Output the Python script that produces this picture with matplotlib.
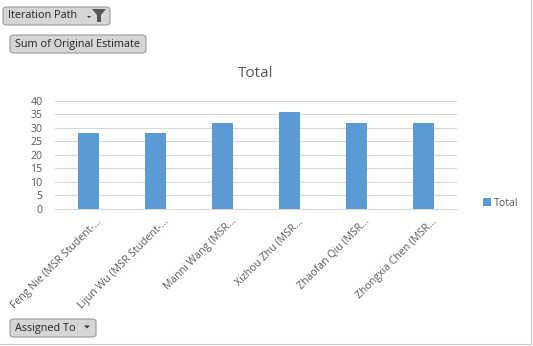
import numpy as np
import matplotlib.pyplot as plt
from matplotlib.patches import FancyBboxPatch, Polygon

plt.rcParams['font.family'] = ['Open Sans', 'DejaVu Sans']

# 数据
names = ['Feng Nie (MSR Student-...', 'Lijun Wu (MSR Student-...',
         'Manni Wang (MSR...', 'Xizhou Zhu (MSR...',
         'Zhaofan Qiu (MSR...', 'Zhongxia Chen (MSR...']
totals = [28, 28, 32, 36, 32, 32]
yticks = [0, 5, 10, 15, 20, 25, 30, 35, 40]

W, H = 533, 346
fig = plt.figure(figsize=(W / 100, H / 100), dpi=100)
fig.patch.set_facecolor('white')


def fx(px):
    return px / W


def fy(py):
    return 1 - py / H


def button(x0, y0, x1, y1, label):
    """Excel 透视图字段按钮"""
    box = FancyBboxPatch((fx(x0), fy(y1)), fx(x1 - x0), (y1 - y0) / H,
                         boxstyle='round,pad=0,rounding_size=0.008',
                         transform=fig.transFigure, facecolor='#d6d6d6',
                         edgecolor='#9a9a9a', linewidth=0.8)
    fig.patches.append(box)
    fig.text(fx(x0 + 5), fy((y0 + y1) / 2), label, fontsize=7.8,
             color='#222222', va='center', ha='left')


def tri(cx, cy, s=3):
    fig.patches.append(Polygon([(fx(cx - s), fy(cy - s / 2)), (fx(cx + s), fy(cy - s / 2)),
                                (fx(cx), fy(cy + s / 2))], closed=True,
                               transform=fig.transFigure, facecolor='#333333',
                               edgecolor='none'))


button(3, 7, 110, 25, 'Iteration Path')
tri(89, 17, 2)
# 漏斗图标
fig.patches.append(Polygon([(fx(92), fy(9)), (fx(106), fy(9)), (fx(101), fy(15)),
                            (fx(101), fy(22)), (fx(97), fy(22)), (fx(97), fy(15))],
                           closed=True, transform=fig.transFigure,
                           facecolor='#555555', edgecolor='none'))
button(10, 35, 146, 53, 'Sum of Original Estimate')
button(10, 319, 96, 337, 'Assigned To')
tri(87, 327, 3)

# 主图
ax = fig.add_axes([fx(55), fy(209), fx(457 - 55), (209 - 101) / H])
x = np.arange(len(names))
ax.bar(x, totals, width=0.31, color='#5B9BD5', label='Total', zorder=3)
ax.set_xlim(-0.5, len(names) - 0.5)
ax.set_ylim(0, 40)
ax.set_yticks(yticks)
ax.set_xticks(x + 0.12)
ax.set_xticklabels(names, rotation=45, ha='right', rotation_mode='anchor',
                   fontsize=7.6, color='#595959')
ax.tick_params(axis='both', length=0, colors='#595959', labelsize=7.6)
ax.tick_params(axis='x', pad=5)
ax.tick_params(axis='y', pad=9)
ax.grid(axis='y', color='#d9d9d9', linewidth=0.8, zorder=0)
ax.xaxis.grid(False)
for s in ['top', 'right', 'left']:
    ax.spines[s].set_visible(False)
ax.spines['bottom'].set_color('#d9d9d9')
ax.set_title('Total', fontsize=11, color='#595959', pad=17)

fig.legend(loc='center left', bbox_to_anchor=(fx(478), fy(203)), frameon=False,
           fontsize=7.6, labelcolor='#595959', handlelength=0.7, handleheight=0.7,
           handletextpad=0.3, borderpad=0)

# 右侧与底部边框
fig.add_artist(plt.Line2D([fx(531), fx(531)], [fy(0), fy(344)], color='#c8c8c8', lw=0.8))
fig.add_artist(plt.Line2D([fx(0), fx(531)], [fy(344), fy(344)], color='#c8c8c8', lw=0.8))

fig.savefig('out.png', dpi=100)
